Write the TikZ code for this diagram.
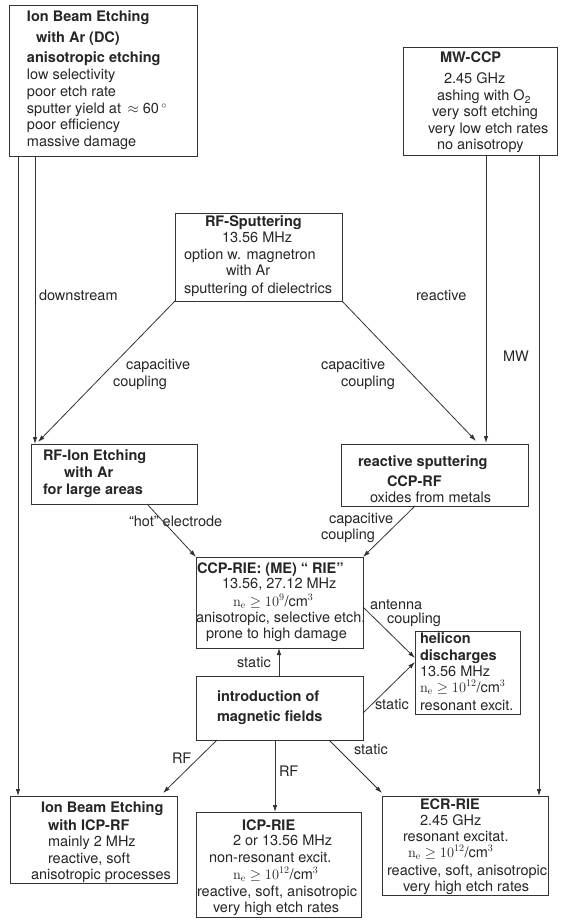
\documentclass[tikz,border=0pt]{standalone}
\usepackage[no-math]{fontspec}
\setmainfont{TeX Gyre Heros}
\usetikzlibrary{arrows.meta,calc,fit}
\newcounter{tlc}
\newcommand\tline[3]{\stepcounter{tlc}\edef\tmpname{l\arabic{tlc}}\node[txt] (\tmpname) at (#1,#2) {#3};}
\newcommand\bline[3]{\stepcounter{tlc}\edef\tmpname{l\arabic{tlc}}\node[txt,font=\fontsize{14.5}{16.5}\selectfont\bfseries] (\tmpname) at (#1,#2) {#3};}
\newcommand\boxn[5]{\node[boxst,fit={(#2,#3) (#4,#5)}] (#1) {};}
\newcommand\nedens{$\mathrm{n_e}\geq 10^{12}$/cm$^3$}
\begin{document}
\begin{tikzpicture}[x=1pt,y=-1pt,
  txt/.style={anchor=base west,inner sep=0pt,outer sep=0pt,text=black!85,font=\fontsize{14.5}{16.5}\selectfont},
  boxst/.style={draw=black!80,line width=0.9pt,inner sep=0pt,outer sep=0pt},
  conn/.style={draw=black!80,line width=0.8pt,-{Latex[length=7pt,width=4.5pt]}}]
\fill[white] (0,0) rectangle (560,920);
\useasboundingbox (0,0) rectangle (560,920);
% boxes
\boxn{ibe1}{9}{5}{197}{156}
\boxn{mw}{403}{47}{557}{155}
\boxn{rfs}{175}{213}{342}{301}
\boxn{rfi}{31}{444}{197}{504}
\boxn{rsp}{341}{444}{528}{506}
\boxn{ccp}{196}{557}{363}{648}
\boxn{hel}{415}{631}{520}{714}
\boxn{mag}{196}{676}{363}{740}
\boxn{ibe2}{10}{796}{177}{883}
\boxn{icp}{196}{812}{361}{917}
\boxn{ecr}{382}{796}{548}{895}
% box texts
\bline{27}{22}{Ion Beam Etching}
\bline{36}{43}{with Ar (DC)}
\bline{27}{63}{anisotropic etching}
\tline{27}{80}{low selectivity}
\tline{27}{97}{poor etch rate}
\tline{27}{114}{sputter yield at \,$\approx$ 60\,$^\circ$}
\tline{27}{130}{poor efficiency}
\tline{27}{147}{massive damage}
%
\bline{440}{63}{MW-CCP}
\tline{444}{84}{2.45 GHz}
\tline{437}{101}{ashing with O\textsubscript{2}}
\tline{432}{117}{very soft etching}
\tline{428}{134}{very low etch rates}
\tline{437}{150}{no anisotropy}
%
\bline{205}{226}{RF-Sputtering}
\tline{222}{242}{13.56 MHz}
\tline{184}{259}{option w. magnetron}
\tline{226}{275}{with Ar}
\tline{184}{293}{sputtering of dielectrics}
%
\bline{43}{460}{RF-Ion Etching}
\bline{64}{477}{with Ar}
\bline{43}{494}{for large areas}
%
\bline{358}{466}{reactive sputtering}
\bline{387}{486}{CCP-RF}
\tline{370}{502}{oxides from metals}
%
\bline{197}{573}{CCP-RIE: (ME) “ RIE”}
\tline{222}{588}{13.56, 27.12 MHz}
\tline{233}{606}{$\mathrm{n_e}\geq 10^{9}$/cm$^3$}
\tline{196}{622}{anisotropic, selective etch.}
\tline{206}{638}{prone to high damage}
%
\bline{420}{643}{helicon}
\bline{420}{660}{discharges}
\tline{420}{676}{13.56 MHz}
\tline{420}{692}{\nedens}
\tline{420}{710}{resonant excit.}
%
\bline{217}{701}{introduction of}
\bline{217}{721}{magnetic fields}
%
\bline{41}{812}{Ion Beam Etching}
\bline{48}{830}{with ICP-RF}
\tline{48}{846}{mainly 2 MHz}
\tline{48}{863}{reactive, soft}
\tline{31}{879}{anisotropic processes}
%
\bline{242}{830}{ICP-RIE}
\tline{233}{845}{2 or 13.56 MHz}
\tline{209}{862}{non-resonant excit.}
\tline{233}{879}{\nedens}
\tline{197}{896}{reactive, soft, anisotropic}
\tline{213}{912}{very high etch rates}
%
\bline{420}{809}{ECR-RIE}
\tline{420}{825}{2.45 GHz}
\tline{403}{841}{resonant excitat.}
\tline{408}{857}{\nedens}
\tline{387}{875}{reactive, soft, anisotropic}
\tline{403}{891}{very high etch rates}
% connector labels
\tline{39}{300}{downstream}
\tline{416}{300}{reactive}
\tline{126}{369}{capacitive}
\tline{113}{386}{coupling}
\tline{321}{369}{capacitive}
\tline{341}{386}{coupling}
\tline{503}{361}{MW}
\tline{129}{526}{“hot” electrode}
\tline{329}{523}{capacitive}
\tline{321}{539}{coupling}
\tline{370}{609}{antenna}
\tline{387}{623}{coupling}
\tline{237}{667}{static}
\tline{375}{709}{static}
\tline{172}{763}{RF}
\tline{279}{776}{RF}
\tline{354}{754}{static}
% connectors
\draw[conn] ($(ibe1.south west)+(9,0)$) -- ($(ibe2.north west)+(8,0)$);
\draw[conn] ($(ibe1.south west)+(26,0)$) -- ($(rfi.north west)+(4,0)$);
\draw[conn] ($(mw.south west)+(83,0)$) -- ($(rsp.north west)+(145,-1)$);
\draw[conn] ($(mw.south west)+(136,0)$) -- ($(ecr.north west)+(157,0)$);
\draw[conn] (rfs.south west) -- ($(rfi.north west)+(7,-2)$);
\draw[conn] (rfs.south east) -- ($(rsp.north west)+(135,-3)$);
\draw[conn] ($(rfi.south west)+(116,0)$) -- (ccp.north west);
\draw[conn] ($(rsp.south west)+(74,0)$) -- (ccp.north east);
\draw[conn] ($(ccp.north east)+(0,50)$) -- ($(hel.north west)+(0,27)$);
\draw[conn] ($(mag.north east)+(0,37)$) -- ($(hel.north west)+(0,31)$);
\draw[conn] ($(mag.north west)+(83,0)$) -- ($(ccp.south west)+(83,0)$);
\draw[conn] ($(mag.south west)+(21,0)$) -- ($(ibe2.north west)+(153,-3)$);
\draw[conn] ($(mag.south west)+(79,0)$) -- ($(icp.north west)+(79,0)$);
\draw[conn] ($(mag.south west)+(133,0)$) -- ($(ecr.north west)+(0,-3)$);
\end{tikzpicture}
\end{document}
